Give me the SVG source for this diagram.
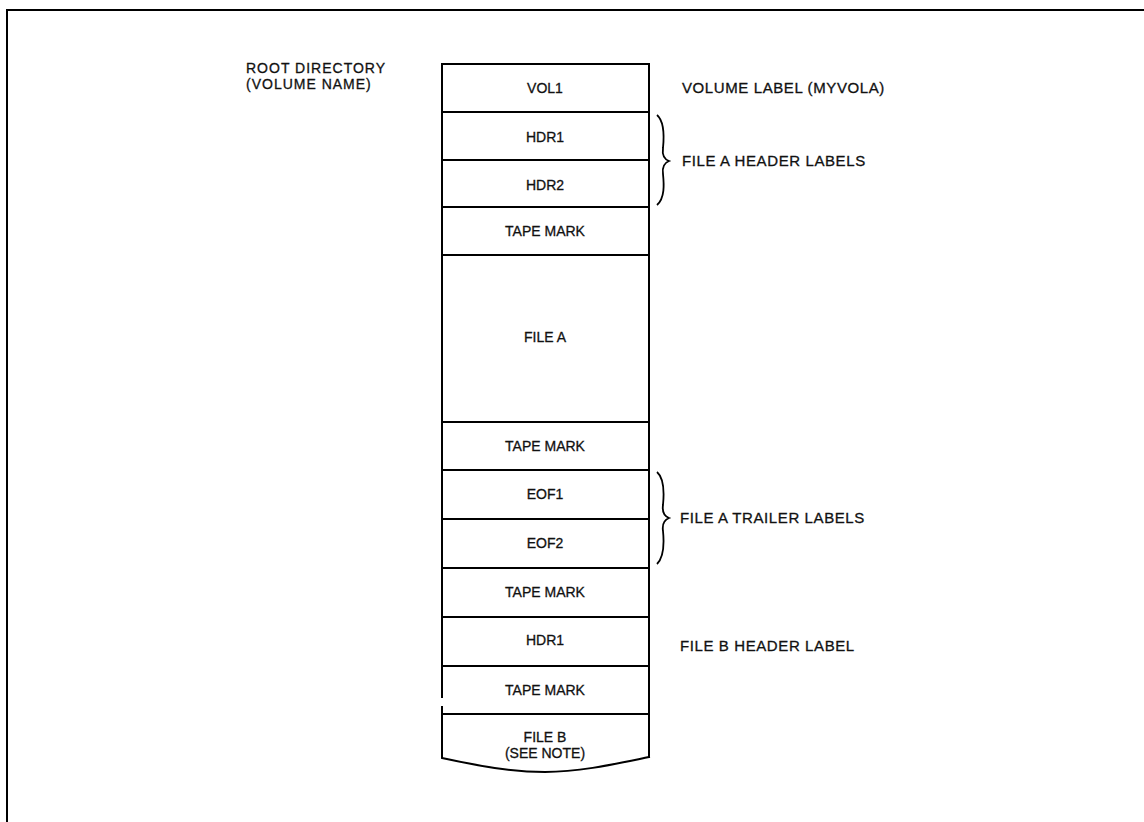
<svg xmlns="http://www.w3.org/2000/svg" width="1144" height="822" viewBox="0 0 1144 822">
<style>
.ln{stroke:#000;stroke-width:2;fill:none;stroke-linecap:square}
.t{font-family:"Liberation Sans",Arial,sans-serif;font-size:14px;fill:#111;stroke:#111;stroke-width:0.3;text-anchor:middle}
.s{font-family:"Liberation Sans",Arial,sans-serif;font-size:15px;fill:#111;stroke:#111;stroke-width:0.3;letter-spacing:0.6px}
.l{font-family:"Liberation Sans",Arial,sans-serif;font-size:14px;fill:#111;stroke:#111;stroke-width:0.3;letter-spacing:1px}
.br{stroke:#000;stroke-width:1.8;fill:none}
</style>
<rect width="1144" height="822" fill="#fff"/>
<g id="frame">
<path class="ln" d="M7,822 L7,10 L1144,10"/>
</g>
<g id="tape">
<path class="ln" d="M442,697 L442,64 L649,64 L649,757"/>
<path class="ln" d="M442,707 L442,758 C480,766 510,772 545,772 C580,772 615,764 649,757"/>
</g>
<g id="connectors">
<path class="ln" d="M442,112 H649 M442,160 H649 M442,207 H649 M442,255 H649 M442,422 H649 M442,470 H649 M442,519 H649 M442,568 H649 M442,617 H649 M442,666 H649 M442,714 H649"/>
<path class="br" d="M657,115 C665,122 664,138 663,148 C662,155 664,159 669,161 C664,163 662,167 663,174 C664,184 665,198 657,205"/>
<path class="br" d="M657,472 C665,479 664,495 663,505 C662,512 664,516 669,518 C664,520 662,524 663,531 C664,541 665,556 657,564"/>
</g>
<g id="vol1"><text class="t" x="545" y="93">VOL1</text></g>
<g id="hdr1a"><text class="t" x="545" y="142">HDR1</text></g>
<g id="hdr2a"><text class="t" x="545" y="190">HDR2</text></g>
<g id="tm1"><text class="t" x="545" y="236">TAPE MARK</text></g>
<g id="filea"><text class="t" x="545" y="342">FILE A</text></g>
<g id="tm2"><text class="t" x="545" y="451">TAPE MARK</text></g>
<g id="eof1"><text class="t" x="545" y="499">EOF1</text></g>
<g id="eof2"><text class="t" x="545" y="548">EOF2</text></g>
<g id="tm3"><text class="t" x="545" y="597">TAPE MARK</text></g>
<g id="hdr1b"><text class="t" x="545" y="645">HDR1</text></g>
<g id="tm4"><text class="t" x="545" y="695">TAPE MARK</text></g>
<g id="fileb"><text class="t" x="545" y="742">FILE B</text><text class="t" x="545" y="758">(SEE NOTE)</text></g>
<g id="labels">
<text class="l" x="246" y="73">ROOT DIRECTORY</text>
<text class="l" x="246" y="89">(VOLUME NAME)</text>
<text class="s" x="682" y="93">VOLUME LABEL (MYVOLA)</text>
<text class="s" x="682" y="166">FILE A HEADER LABELS</text>
<text class="s" x="680" y="523">FILE A TRAILER LABELS</text>
<text class="s" x="680" y="651">FILE B HEADER LABEL</text>
</g>
</svg>
